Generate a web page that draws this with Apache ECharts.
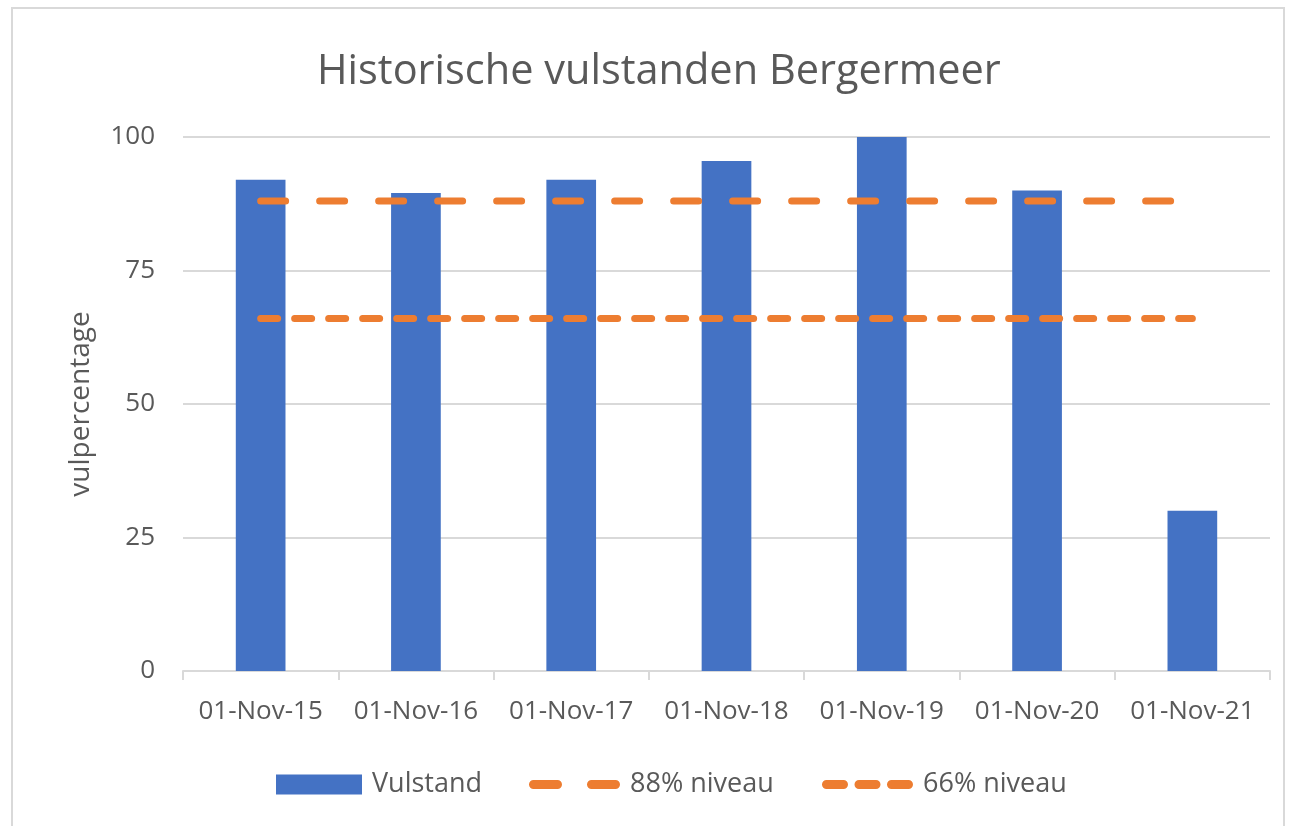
<!DOCTYPE html>
<html>
<head>
<meta charset="utf-8">
<script src="https://cdn.jsdelivr.net/npm/echarts@6/dist/echarts.min.js"></script>
<style>
  html, body { margin: 0; padding: 0; background: #fff; }
  #main { width: 1290px; height: 826px; }
</style>
</head>
<body>
<div id="main"></div>
<script>
var categories = ['01-Nov-15', '01-Nov-16', '01-Nov-17', '01-Nov-18', '01-Nov-19', '01-Nov-20', '01-Nov-21'];
var vulstand = [92, 89.5, 92, 95.5, 100, 90, 30];
var niveau88 = [88, 88, 88, 88, 88, 88, 88];
var niveau66 = [66, 66, 66, 66, 66, 66, 66];
var yTicks = [0, 25, 50, 75, 100];

var txt = '#595959';
var font = 'Open Sans';
var orange = '#ED7D31';

// legend icons: rounded dashes like the plotted lines
var icon88 = 'path://M4.5,0 H28.5 A4.5,4.5 0 0 1 28.5,9 H4.5 A4.5,4.5 0 0 1 4.5,0 Z ' +
  'M62.5,0 H86.5 A4.5,4.5 0 0 1 86.5,9 H62.5 A4.5,4.5 0 0 1 62.5,0 Z';
var icon66 = 'path://M4.5,0 H21.5 A4.5,4.5 0 0 1 21.5,9 H4.5 A4.5,4.5 0 0 1 4.5,0 Z ' +
  'M37,0 H54 A4.5,4.5 0 0 1 54,9 H37 A4.5,4.5 0 0 1 37,0 Z ' +
  'M69.5,0 H86.5 A4.5,4.5 0 0 1 86.5,9 H69.5 A4.5,4.5 0 0 1 69.5,0 Z';

var legendText = { fontFamily: font, fontSize: 27, color: txt, padding: [0, 0, 0, 5] };

var chart = echarts.init(document.getElementById('main'));
var option = {
  backgroundColor: '#fff',
  animation: false,
  graphic: [{
    type: 'rect',
    shape: { x: 12, y: 8, width: 1272, height: 840 },
    style: { fill: 'none', stroke: '#d9d9d9', lineWidth: 2 },
    silent: true
  }],
  title: {
    text: 'Historische vulstanden Bergermeer',
    left: 312,
    top: 46,
    textStyle: { fontFamily: font, fontSize: 41.5, fontWeight: 'normal', color: txt }
  },
  legend: [
    {
      left: 271, top: 766,
      itemWidth: 86, itemHeight: 20,
      textStyle: legendText,
      data: [{ name: 'Vulstand', icon: 'rect' }]
    },
    {
      left: 524, top: 766,
      itemWidth: 91, itemHeight: 9,
      textStyle: legendText,
      data: [{ name: '88% niveau', icon: icon88 }]
    },
    {
      left: 817, top: 766,
      itemWidth: 91, itemHeight: 9,
      textStyle: legendText,
      data: [{ name: '66% niveau', icon: icon66 }]
    }
  ],
  grid: { left: 183, right: 20, top: 137, bottom: 155 },
  xAxis: {
    type: 'category',
    data: categories,
    axisLine: { lineStyle: { color: '#d9d9d9', width: 2 } },
    axisTick: { show: true, length: 9, lineStyle: { color: '#d9d9d9', width: 2 } },
    axisLabel: { fontFamily: font, fontSize: 26, color: txt, margin: 28, interval: 0 }
  },
  yAxis: {
    type: 'value',
    min: yTicks[0],
    max: yTicks[yTicks.length - 1],
    interval: 25,
    name: 'vulpercentage',
    nameLocation: 'middle',
    nameGap: 88,
    nameTextStyle: { fontFamily: font, fontSize: 28, color: txt },
    axisLine: { show: false },
    axisTick: { show: false },
    axisLabel: { fontFamily: font, fontSize: 26, color: txt, margin: 28 },
    splitLine: { lineStyle: { color: '#d9d9d9', width: 2 } }
  },
  series: [
    {
      name: 'Vulstand',
      type: 'bar',
      data: vulstand,
      barWidth: '32%',
      itemStyle: { color: '#4472C4' }
    },
    {
      name: '88% niveau',
      type: 'line',
      data: niveau88,
      symbol: 'none',
      z: 5,
      itemStyle: { color: orange },
      lineStyle: { color: orange, width: 7, type: [25, 34], cap: 'round' }
    },
    {
      name: '66% niveau',
      type: 'line',
      data: niveau66,
      symbol: 'none',
      z: 5,
      itemStyle: { color: orange },
      lineStyle: { color: orange, width: 7, type: [17, 17], cap: 'round' }
    }
  ]
};
chart.setOption(option);
</script>
</body>
</html>
